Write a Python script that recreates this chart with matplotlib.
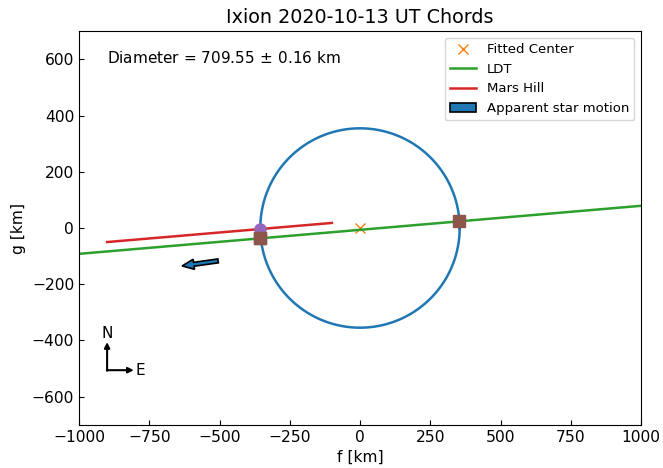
import numpy as np
import matplotlib
matplotlib.use("Agg")
import matplotlib.pyplot as plt
from matplotlib.patches import Patch

# fitted ellipse (circle) and chord data, km
diameter = 709.55
diameter_err = 0.16
center = (0.0, 0.0)

# LDT chord line and its disappearance / reappearance points
ldt_f = [-1000, 1000]
ldt_g = [-92, 79]
ldt_events_f = [-355, 353]
ldt_events_g = [-36, 25]

# Mars Hill chord line and disappearance point
mh_f = [-900, -100]
mh_g = [-50, 18]
mh_event_f = [-356]
mh_event_g = [-2]

# apparent star motion arrow (start, delta)
star_start = (-505, -117)
star_delta = (-128, -18)

fig = plt.figure(figsize=(6.63, 4.68), dpi=100)
ax = fig.add_axes([79 / 663, 43 / 468, 562 / 663, 394 / 468])

th = np.linspace(0, 2 * np.pi, 400)
r = diameter / 2
ax.plot(center[0] + r * np.cos(th), center[1] + r * np.sin(th), color='C0', lw=1.8)
ax.plot(center[0], center[1], 'x', color='C1', ms=7, label='Fitted Center')

ax.plot(ldt_f, ldt_g, color='C2', lw=1.8, label='LDT')
ax.plot(mh_f, mh_g, color='C3', lw=1.8, label='Mars Hill')

ax.plot(ldt_events_f, ldt_events_g, 's', color='C5', ms=8)
ax.plot(mh_event_f, mh_event_g, 'o', color='C4', ms=8)
ax.plot(ldt_events_f[:1], ldt_events_g[:1], 's', color='C5', ms=8)

ax.arrow(star_start[0], star_start[1], star_delta[0], star_delta[1],
         width=14, head_width=36, head_length=42, length_includes_head=True,
         fc='C0', ec='k', lw=1.2)

# compass
ax.annotate('', xy=(-900, -406), xytext=(-900, -508),
            arrowprops=dict(arrowstyle='-|>', color='k', lw=1.5, mutation_scale=8,
                            shrinkA=0, shrinkB=0))
ax.annotate('', xy=(-805, -506), xytext=(-901, -506),
            arrowprops=dict(arrowstyle='-|>', color='k', lw=1.5, mutation_scale=8,
                            shrinkA=0, shrinkB=0))
ax.text(-900, -403, 'N', ha='center', va='bottom', fontsize=11)
ax.text(-800, -506, 'E', ha='left', va='center', fontsize=11)

ax.text(-900, 605, r'Diameter = 709.55$\,\pm\,$0.16 km', ha='left', va='center', fontsize=11)

handles, labels = ax.get_legend_handles_labels()
handles.append(Patch(facecolor='C0', edgecolor='k', lw=1.2))
labels.append('Apparent star motion')
ax.legend(handles, labels, loc='upper right', fontsize=9.5)

ax.set_xlim(-1000, 1000)
ax.set_ylim(-700, 700)
ax.set_aspect('equal')
ax.tick_params(direction='in', labelsize=11.2)
ax.set_xlabel('f [km]', fontsize=11.2)
ax.set_ylabel('g [km]', fontsize=11.2)
ax.set_title('Ixion 2020-10-13 UT Chords', fontsize=13.8)

plt.savefig('out.png')
